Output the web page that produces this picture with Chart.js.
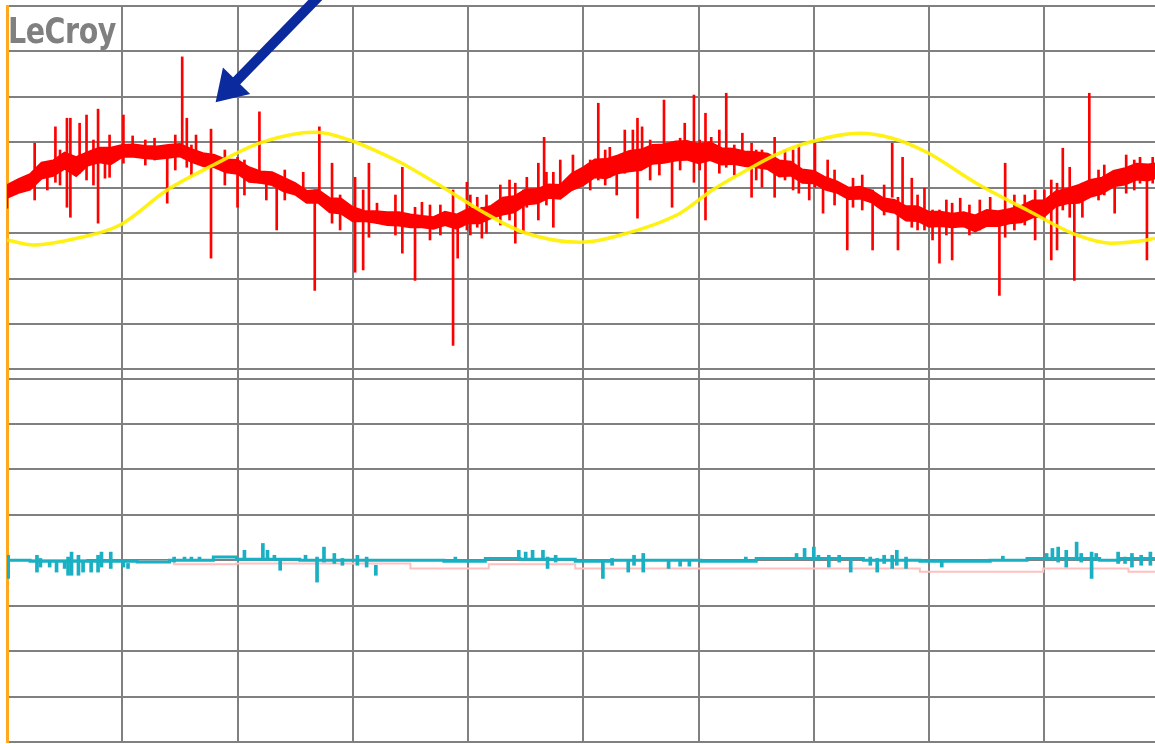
<!DOCTYPE html>
<html>
<head>
<meta charset="utf-8">
<title>LeCroy capture</title>
<script src="https://cdn.jsdelivr.net/npm/chart.js@4.4.1/dist/chart.umd.min.js"></script>
<style>
  body { margin: 0; background: #fff; overflow: hidden; }
  #wrap { position: relative; width: 1155px; height: 744px; }
  #logo {
    position: absolute; left: 8px; top: 13px;
    font: 36px "DejaVu Sans Condensed", "DejaVu Sans", sans-serif;
    font-weight: 600;
    color: #808080; line-height: 1;
    transform: scaleX(0.88); transform-origin: 0 0;
    letter-spacing: -0.5px;
  }
</style>
</head>
<body>
<div id="wrap">
  <canvas id="scope" width="1155" height="744"></canvas>
  <div id="logo">LeCroy</div>
</div>
<script>

// everything is in screen divisions: x = time div, y = volt div
// upper trace centred on 0, lower trace centred on -8.2
var GRID_X = [0, 1, 2, 3, 4, 5, 6, 7, 8, 9];
var GRID_Y = [4, 3, 2, 1, 0, -1, -2, -3, -4,
              -4.2, -5.2, -6.2, -7.2, -8.2, -9.2, -10.2, -11.2, -12.2];
var X_MAX = 9.96;

// yellow reference sine (x, y)
var SINE_X = [0, 0.23, 0.61, 0.98, 1.39, 1.79, 2.19, 2.54, 2.69, 2.97, 3.23, 3.41, 3.82, 4.10, 4.48, 4.97,
              5.38, 5.84, 6.12, 6.42, 6.70, 6.96, 7.40, 7.68, 7.98, 8.41, 8.85, 9.28, 9.57, 9.89, 9.96];
var SINE_Y = [-1.15, -1.26, -1.11, -0.82, -0.05, 0.50, 0.98, 1.20, 1.22, 1.05, 0.78, 0.56, -0.05, -0.49, -0.98, -1.20,
              -1.00, -0.56, -0.05, 0.39, 0.76, 1.00, 1.20, 1.09, 0.78, 0.10, -0.49, -1.04, -1.22, -1.15, -1.11];

// red noisy current, thick part, one sample every 0.1 div:
// middle of the band, then how far it reaches up and down
var BAND_STEP = 0.1;
var BAND_MID = [
  -0.05, 0.00, 0.17, 0.34, 0.45, 0.54, 0.50, 0.65, 0.67, 0.72,
  0.83, 0.78, 0.83, 0.76, 0.83, 0.78, 0.72, 0.67, 0.56, 0.50,
  0.43, 0.32, 0.26, 0.17, 0.10, -0.05, -0.16, -0.21, -0.34, -0.43,
  -0.56, -0.60, -0.67, -0.65, -0.71, -0.69, -0.76, -0.74, -0.69, -0.71,
  -0.65, -0.60, -0.56, -0.43, -0.34, -0.23, -0.16, -0.10, -0.05, 0.10,
  0.28, 0.39, 0.45, 0.50, 0.56, 0.65, 0.72, 0.78, 0.78, 0.83,
  0.78, 0.78, 0.72, 0.67, 0.67, 0.61, 0.54, 0.45, 0.39, 0.28,
  0.21, 0.12, -0.01, -0.10, -0.12, -0.23, -0.34, -0.43, -0.54, -0.60,
  -0.67, -0.71, -0.69, -0.71, -0.76, -0.69, -0.65, -0.65, -0.56, -0.49,
  -0.43, -0.27, -0.16, -0.12, -0.05, 0.06, 0.17, 0.28, 0.34, 0.34,
  0.39
];
var BAND_UP = [
  0.11, 0.19, 0.13, 0.21, 0.15, 0.23, 0.17, 0.13, 0.21, 0.16,
  0.11, 0.17, 0.09, 0.15, 0.11, 0.18, 0.13, 0.09, 0.16, 0.12,
  0.18, 0.13, 0.10, 0.17, 0.12, 0.15, 0.09, 0.16, 0.11, 0.19,
  0.13, 0.09, 0.15, 0.11, 0.17, 0.10, 0.14, 0.09, 0.16, 0.12,
  0.18, 0.13, 0.16, 0.21, 0.15, 0.19, 0.13, 0.17, 0.11, 0.21,
  0.17, 0.23, 0.18, 0.21, 0.25, 0.19, 0.22, 0.17, 0.24, 0.20,
  0.18, 0.22, 0.15, 0.19, 0.13, 0.17, 0.21, 0.15, 0.18, 0.12,
  0.16, 0.11, 0.15, 0.10, 0.14, 0.17, 0.11, 0.16, 0.13, 0.19,
  0.14, 0.18, 0.12, 0.17, 0.15, 0.20, 0.13, 0.18, 0.16, 0.21,
  0.15, 0.19, 0.14, 0.18, 0.22, 0.16, 0.20, 0.15, 0.19, 0.17,
  0.16
];
var BAND_DN = [
  0.17, 0.11, 0.21, 0.14, 0.19, 0.12, 0.24, 0.16, 0.11, 0.20,
  0.15, 0.10, 0.18, 0.13, 0.17, 0.09, 0.15, 0.19, 0.11, 0.16,
  0.12, 0.19, 0.15, 0.11, 0.18, 0.10, 0.17, 0.12, 0.20, 0.14,
  0.18, 0.13, 0.10, 0.17, 0.12, 0.18, 0.11, 0.16, 0.13, 0.19,
  0.13, 0.18, 0.11, 0.16, 0.20, 0.14, 0.18, 0.12, 0.19, 0.15,
  0.22, 0.16, 0.24, 0.18, 0.20, 0.26, 0.19, 0.23, 0.18, 0.21,
  0.24, 0.17, 0.21, 0.14, 0.19, 0.16, 0.13, 0.20, 0.12, 0.17,
  0.11, 0.16, 0.10, 0.15, 0.12, 0.09, 0.16, 0.12, 0.18, 0.13,
  0.19, 0.13, 0.18, 0.14, 0.20, 0.15, 0.19, 0.13, 0.20, 0.16,
  0.20, 0.14, 0.18, 0.21, 0.15, 0.19, 0.14, 0.21, 0.16, 0.18,
  0.15
];

// red spikes [x, low, high]
var RED_SPIKES = [
  [0.00,-0.45,-0.01],[0.24,-0.27,0.98],[0.42,0.12,1.34],[0.52,-0.43,1.53],[0.55,-0.65,1.53],
  [0.63,0.32,1.42],[0.69,0.17,1.60],[0.79,-0.78,1.73],[0.89,0.23,1.16],[1.01,0.54,1.60],
  [1.09,0.76,1.14],[1.39,-0.34,0.67],[1.52,0.83,2.88],[1.56,0.45,1.53],[1.64,0.54,1.16],
  [1.77,-1.55,1.29],[2.00,-0.43,0.67],[2.19,0.10,1.67],[2.25,-0.27,0.32],[2.34,-0.93,0.23],
  [2.57,-0.05,0.34],[2.67,-2.26,-0.05],[2.71,-0.12,1.34],[2.82,-0.78,0.54],[3.02,-1.86,0.23],
  [3.09,-1.81,-0.05],[3.14,-1.09,0.54],[3.21,-0.78,-0.34],[3.43,-1.44,0.45],[3.54,-2.04,-0.43],
  [3.60,-0.87,-0.32],[3.87,-3.47,-0.05],[3.91,-1.55,-0.78],[3.99,-0.93,0.12],[4.08,-0.87,-0.21],
  [4.12,-1.11,-0.43],[4.16,-1.00,-0.16],[4.41,-1.22,0.10],[4.48,-1.00,-0.05],[4.51,-0.43,0.23],
  [4.61,-0.71,0.54],[4.66,-0.21,1.11],[4.68,-0.38,0.34],[4.74,-0.87,0.34],[4.91,0.10,0.72],
  [5.13,0.17,1.86],[5.23,0.23,0.89],[5.29,-0.16,0.67],[5.36,0.32,1.27],[5.43,0.61,1.27],
  [5.47,-0.67,1.53],[5.51,0.61,1.34],[5.70,0.67,1.93],[5.77,-0.43,0.98],[5.88,0.61,1.42],
  [5.96,0.12,2.04],[6.06,-0.71,1.64],[6.11,0.67,1.11],[6.18,0.32,1.27],[6.24,0.45,2.08],
  [6.38,0.56,1.20],[6.46,-0.21,0.98],[6.55,0.01,0.83],[6.66,-0.21,1.11],[6.82,-0.05,0.83],
  [6.87,-0.12,0.94],[6.96,-0.27,0.23],[7.01,0.01,0.98],[7.08,-0.56,0.17],[7.12,0.01,0.61],
  [7.29,-1.37,-0.05],[7.34,-0.43,0.21],[7.51,-1.37,-0.05],[7.68,-0.21,0.98],[7.73,-1.37,-0.21],
  [7.77,-0.49,0.67],[7.85,-0.87,0.21],[7.96,-0.93,-0.01],[8.03,-1.15,-0.49],[8.09,-1.66,-0.49],
  [8.20,-1.59,-0.34],[8.27,-0.78,-0.23],[8.53,-0.71,-0.21],[8.61,-2.37,-0.65],[8.66,-1.09,0.54],
  [8.92,-1.15,-0.05],[9.06,-1.59,0.17],[9.11,-1.37,0.10],[9.16,-0.49,0.87],[9.22,-0.65,0.45],
  [9.26,-2.04,-0.12],[9.33,-0.65,0.10],[9.39,-0.12,2.08],[9.61,-0.56,0.32],[9.71,-0.12,0.72],
  [9.83,0.10,0.67],[9.89,-1.59,0.17],[9.94,0.10,0.67]
];
// short strokes that make the band ragged [x, low, high]
var RED_SHORT = [
  [0.35,-0.05,0.56],[0.46,0.06,0.83],[0.75,0.06,1.05],[0.85,0.21,0.83],[1.20,0.50,1.05],
  [1.28,0.61,1.09],[1.46,0.39,1.16],[1.60,0.28,0.94],[1.89,0.06,0.83],[2.06,-0.16,0.61],
  [2.41,-0.27,0.39],[2.89,-0.93,-0.16],[3.37,-1.04,-0.16],[3.67,-1.15,-0.38],[3.76,-1.04,-0.38],
  [4.02,-1.04,-0.16],[4.28,-0.82,0.06],[4.36,-0.71,0.17],[4.80,-0.16,0.61],[5.06,-0.05,0.61],
  [5.19,0.06,0.83],[5.58,0.17,1.05],[5.66,0.28,0.94],[5.84,0.39,1.09],[6.01,0.39,1.05],
  [6.31,0.28,0.94],[6.50,0.17,0.83],[6.75,0.17,0.83],[7.18,-0.38,0.39],[7.42,-0.49,0.28],
  [7.61,-0.60,0.06],[7.90,-0.93,-0.16],[8.15,-1.04,-0.27],[8.35,-1.04,-0.38],[8.44,-0.93,-0.27],
  [8.74,-0.93,-0.16],[8.83,-0.82,-0.16],[9.00,-0.71,-0.05],[9.47,-0.27,0.39],[9.52,-0.16,0.50],
  [9.78,-0.05,0.61]
];

// lower trace: cyan level steps [x, y] and its spikes [x, low, high]
var CYAN_STEPS = [
  [0.00,-8.20],[0.20,-8.22],[1.13,-8.24],[1.41,-8.20],[1.79,-8.13],[1.99,-8.18],[2.54,-8.20],
  [3.79,-8.22],[4.15,-8.16],[4.45,-8.18],[4.93,-8.22],[5.25,-8.20],[6.02,-8.22],[6.50,-8.16],
  [7.43,-8.20],[7.92,-8.22],[8.53,-8.20],[8.85,-8.16],[9.48,-8.20],[9.65,-8.16],[9.96,-8.16]
];
var CYAN_SPIKES = [
  [0.01,-8.60,-8.09],[0.26,-8.46,-8.09],[0.29,-8.35,-8.16],[0.37,-8.35,-8.20],[0.43,-8.46,-8.20],
  [0.50,-8.38,-8.20],[0.53,-8.53,-8.13],[0.56,-8.53,-8.02],[0.62,-8.53,-8.09],[0.66,-8.46,-8.20],
  [0.73,-8.46,-8.20],[0.79,-8.46,-8.09],[0.82,-8.35,-8.02],[0.90,-8.38,-8.02],[1.01,-8.35,-8.20],
  [1.05,-8.38,-8.27],[1.45,-8.24,-8.13],[1.54,-8.20,-8.13],[1.60,-8.20,-8.13],[1.67,-8.20,-8.13],
  [2.06,-8.20,-7.98],[2.22,-8.20,-7.83],[2.26,-8.16,-7.98],[2.32,-8.20,-8.09],[2.37,-8.42,-8.20],
  [2.59,-8.20,-8.09],[2.69,-8.68,-8.13],[2.75,-8.24,-7.91],[2.84,-8.27,-8.05],[2.91,-8.31,-8.16],
  [3.04,-8.31,-8.09],[3.12,-8.35,-8.13],[3.20,-8.53,-8.31],[3.89,-8.20,-8.13],[4.44,-8.16,-7.98],
  [4.50,-8.16,-8.02],[4.56,-8.20,-7.98],[4.65,-8.16,-7.98],[4.69,-8.38,-8.13],[4.76,-8.24,-8.09],
  [5.17,-8.60,-8.20],[5.25,-8.31,-8.16],[5.39,-8.46,-8.20],[5.44,-8.31,-8.09],[5.52,-8.46,-8.05],
  [5.74,-8.38,-8.20],[5.84,-8.33,-8.20],[5.92,-8.33,-8.20],[6.41,-8.20,-8.13],[6.85,-8.16,-8.05],
  [6.92,-8.16,-7.94],[7.00,-8.20,-7.91],[7.04,-8.20,-8.09],[7.13,-8.35,-8.09],[7.22,-8.24,-8.09],
  [7.32,-8.46,-8.16],[7.49,-8.31,-8.13],[7.55,-8.46,-8.16],[7.61,-8.27,-8.09],[7.68,-8.38,-8.09],
  [7.72,-8.31,-7.98],[7.80,-8.38,-8.13],[8.11,-8.35,-8.20],[8.64,-8.18,-8.11],[9.02,-8.20,-8.05],
  [9.07,-8.20,-7.94],[9.12,-8.24,-7.91],[9.19,-8.35,-7.98],[9.28,-8.20,-7.80],[9.32,-8.24,-8.05],
  [9.41,-8.60,-8.02],[9.45,-8.20,-8.05],[9.64,-8.27,-8.02],[9.70,-8.27,-8.13],[9.76,-8.35,-8.05],
  [9.84,-8.31,-8.09],[9.92,-8.31,-8.02]
];

// faint pink reference under the cyan trace [x, y]
var PINK_STEPS = [
  [0.00,-8.20],[0.68,-8.22],[1.45,-8.29],[1.99,-8.27],[3.50,-8.38],[4.18,-8.29],
  [4.93,-8.38],[7.92,-8.45],[8.99,-8.38],[9.73,-8.45],[9.96,-8.45]
];

// blue pointer arrow, tail and tip in divisions
var ARROW_TAIL = [2.72, 4.25];
var ARROW_TIP = [1.81, 1.88];


function pairs(xs, ys) {
    var out = [];
    for (var i = 0; i < xs.length; i++) {
        out.push({ x: xs[i], y: ys[i] });
    }
    return out;
}

function spikes(list) {
    return list.map(function (s) { return { x: s[0], y: [s[1], s[2]] }; });
}

function points(list) {
    return list.map(function (p) { return { x: p[0], y: p[1] }; });
}

function bandEdge(offsets, sign) {
    return BAND_MID.map(function (v, i) {
        return { x: Math.round(i * BAND_STEP * 100) / 100, y: v + sign * offsets[i] };
    });
}


/**********************************************************************
* arrow drawn on top of the traces
**********************************************************************/
var arrowPlugin = {
    id: 'arrow',
    afterDatasetsDraw: function (chart) {
        var ctx = chart.ctx;
        var sx = chart.scales.x, sy = chart.scales.y;
        var x0 = sx.getPixelForValue(ARROW_TAIL[0]), y0 = sy.getPixelForValue(ARROW_TAIL[1]);
        var x1 = sx.getPixelForValue(ARROW_TIP[0]), y1 = sy.getPixelForValue(ARROW_TIP[1]);
        var ang = Math.atan2(y1 - y0, x1 - x0);
        var headLen = 30, headHalf = 19;
        var bx = x1 - headLen * Math.cos(ang), by = y1 - headLen * Math.sin(ang);

        ctx.save();
        ctx.strokeStyle = '#0b2a9e';
        ctx.fillStyle = '#0b2a9e';
        ctx.lineWidth = 10;
        ctx.beginPath();
        ctx.moveTo(x0, y0);
        ctx.lineTo(bx + 4 * Math.cos(ang), by + 4 * Math.sin(ang));
        ctx.stroke();
        ctx.beginPath();
        ctx.moveTo(x1, y1);
        ctx.lineTo(bx + headHalf * Math.sin(ang), by - headHalf * Math.cos(ang));
        ctx.lineTo(bx - headHalf * Math.sin(ang), by + headHalf * Math.cos(ang));
        ctx.closePath();
        ctx.fill();
        ctx.restore();
    }
};


var ctx = document.getElementById('scope').getContext('2d');
var scope = new Chart(ctx, {
    type: 'line',
    data: {
        datasets: [
            {
                label: 'ref sine',
                data: pairs(SINE_X, SINE_Y),
                borderColor: 'rgba(255,240,0,0.92)',
                borderWidth: 3.5,
                pointRadius: 0,
                cubicInterpolationMode: 'monotone',
                order: 0
            },
            {
                type: 'bar',
                label: 'red spikes',
                data: spikes(RED_SPIKES.concat(RED_SHORT)),
                backgroundColor: '#ff0000',
                barThickness: 2,
                grouped: false,
                order: 1
            },
            {
                label: 'red trace top',
                data: bandEdge(BAND_UP, 1),
                borderColor: '#ff0000',
                backgroundColor: '#ff0000',
                borderWidth: 2,
                pointRadius: 0,
                tension: 0,
                fill: '+1',
                order: 2
            },
            {
                label: 'red trace bottom',
                data: bandEdge(BAND_DN, -1),
                borderColor: '#ff0000',
                borderWidth: 2,
                pointRadius: 0,
                tension: 0,
                order: 2
            },
            {
                type: 'bar',
                label: 'cyan spikes',
                data: spikes(CYAN_SPIKES),
                backgroundColor: '#18b0c2',
                barThickness: 3,
                grouped: false,
                order: 3
            },
            {
                label: 'cyan trace',
                data: points(CYAN_STEPS),
                borderColor: '#18b0c2',
                borderWidth: 3,
                pointRadius: 0,
                stepped: 'before',
                order: 4
            },
            {
                label: 'pink ref',
                data: points(PINK_STEPS),
                borderColor: '#ffc0c0',
                borderWidth: 2,
                pointRadius: 0,
                stepped: 'before',
                order: 5
            }
        ]
    },
    options: {
        responsive: false,
        animation: false,
        events: [],
        layout: { padding: { left: 7, top: 6, right: 0, bottom: 2 } },
        plugins: { legend: { display: false }, tooltip: { enabled: false } },
        scales: {
            x: {
                type: 'linear',
                min: 0,
                max: X_MAX,
                offset: false,
                afterBuildTicks: function (axis) {
                    axis.ticks = GRID_X.map(function (v) { return { value: v }; });
                },
                ticks: { display: false },
                grid: {
                    offset: false,
                    drawTicks: false,
                    color: function (c) { return c.tick && c.tick.value === 0 ? 'rgba(0,0,0,0)' : '#808080'; },
                    lineWidth: 2
                },
                border: { display: true, color: '#808080', width: 2 }
            },
            y: {
                type: 'linear',
                min: -12.2,
                max: 4,
                afterBuildTicks: function (axis) {
                    axis.ticks = GRID_Y.map(function (v) { return { value: v }; });
                },
                ticks: { display: false },
                grid: { drawTicks: false, color: '#808080', lineWidth: 2 },
                border: { display: true, color: '#ffa820', width: 3 }
            }
        }
    },
    plugins: [arrowPlugin]
});
</script>
</body>
</html>
